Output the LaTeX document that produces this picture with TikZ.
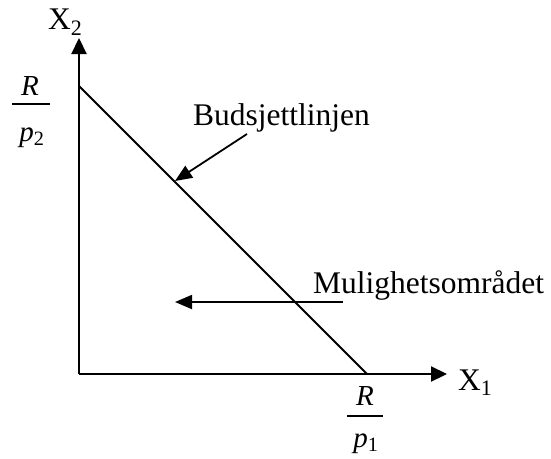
\documentclass[tikz,border=0pt]{standalone}
\usepackage{fontspec}
\setmainfont{Liberation Serif}
\usetikzlibrary{arrows.meta}
\begin{document}
\begin{tikzpicture}[x=1pt,y=-1pt,
  axis/.style={line width=2.2pt,-{Triangle[length=16pt,width=15pt]}},
  budget/.style={line width=1.8pt},
  pointer/.style={line width=1.8pt,-{Triangle[length=17pt,width=14pt]}},
  lab/.style={inner sep=0pt,font=\fontsize{31.5}{36}\selectfont},
  frac/.style={inner sep=0pt,font=\fontsize{29}{34}\selectfont},
  fracbar/.style={line width=1.6pt}]
\useasboundingbox (0,0) rectangle (551,458);
\coordinate (O) at (79,374);
\coordinate (ytip) at (79,38);
\coordinate (xtip) at (447,374);
\coordinate (B2) at (79,86);
\coordinate (B1) at (367,374);
\draw[axis] (O) -- (ytip);
\draw[axis] (O) -- (xtip);
\draw[budget] (B2) -- (B1);
\node[lab,anchor=base west] (x2) at (48,29) {X\textsubscript{2}};
\node[lab,anchor=base west] (x1) at (458,390) {X\textsubscript{1}};
\node[lab,anchor=base west] (bud) at (193,125) {Budsjettlinjen};
\node[lab,anchor=base west] (mul) at (313,293) {Mulighetsområdet};
\coordinate (budstart) at (247,134);
\coordinate (budtip) at (175,181);
\draw[pointer] (budstart) -- (budtip);
\coordinate (mulstart) at (343,302);
\coordinate (multip) at (175,302);
\draw[pointer] (mulstart) -- (multip);
% R/p2
\node[frac,anchor=base] (r2) at (30,95) {\textit{R}};
\coordinate (bar2a) at (12,104);
\coordinate (bar2b) at (50,104);
\draw[fracbar] (bar2a) -- (bar2b);
\node[frac,anchor=base] (p2) at (32,141) {\textit{p}\textsubscript{2}};
% R/p1
\node[frac,anchor=base] (r1) at (365,405) {\textit{R}};
\coordinate (bar1a) at (347,416);
\coordinate (bar1b) at (383,416);
\draw[fracbar] (bar1a) -- (bar1b);
\node[frac,anchor=base] (p1) at (366,447) {\textit{p}\textsubscript{1}};
\end{tikzpicture}
\end{document}
